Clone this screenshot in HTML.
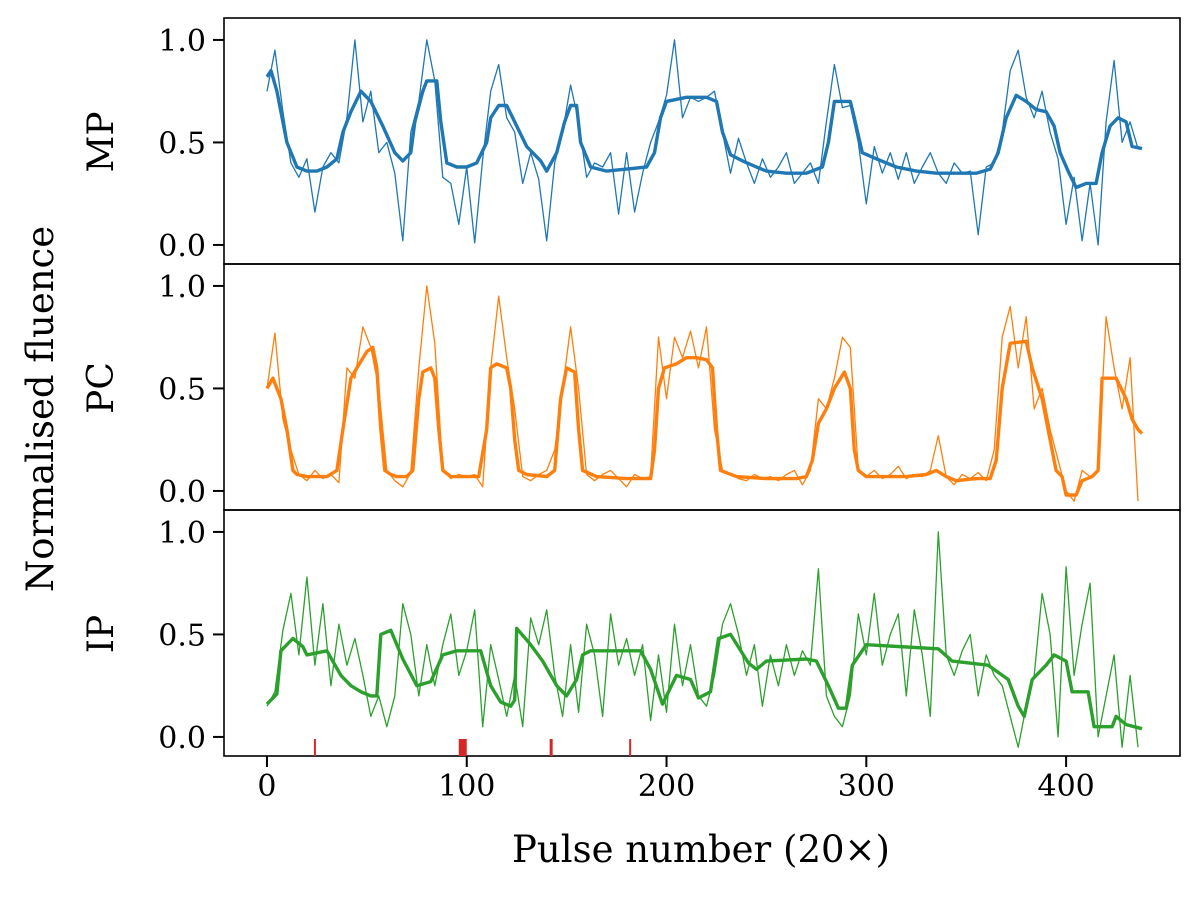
<!DOCTYPE html>
<html><head><meta charset="utf-8">
<style>
html,body{margin:0;padding:0;background:#fff;}
svg text{font-family:"DejaVu Serif","Liberation Serif",serif;fill:#000;}
</style></head>
<body>
<svg id="chart" width="1200" height="893" viewBox="0 0 1200 893" xmlns="http://www.w3.org/2000/svg"></svg>
<script>
// ---- data ----
const rawStep = 4;
const mpRaw = [0.75,0.95,0.65,0.4,0.33,0.42,0.16,0.38,0.45,0.4,0.62,1.0,0.6,0.75,0.45,0.5,0.35,0.02,0.55,0.7,1.0,0.8,0.33,0.3,0.1,0.38,0.01,0.42,0.75,0.88,0.62,0.55,0.3,0.45,0.32,0.02,0.4,0.55,0.78,0.6,0.33,0.4,0.38,0.45,0.15,0.45,0.16,0.35,0.5,0.6,0.73,1.0,0.62,0.72,0.7,0.72,0.75,0.55,0.35,0.52,0.4,0.3,0.42,0.33,0.38,0.45,0.3,0.35,0.4,0.3,0.6,0.88,0.67,0.68,0.5,0.2,0.48,0.35,0.45,0.32,0.45,0.3,0.38,0.45,0.35,0.3,0.4,0.35,0.36,0.05,0.38,0.4,0.55,0.85,0.95,0.72,0.62,0.75,0.55,0.42,0.1,0.33,0.02,0.3,0.0,0.6,0.9,0.5,0.6,0.47];
const pcRaw = [0.5,0.77,0.35,0.2,0.08,0.05,0.1,0.06,0.08,0.04,0.6,0.55,0.8,0.7,0.5,0.1,0.05,0.02,0.09,0.6,1.0,0.72,0.1,0.06,0.08,0.07,0.08,0.02,0.6,0.95,0.65,0.4,0.07,0.05,0.08,0.1,0.2,0.5,0.8,0.5,0.08,0.05,0.08,0.1,0.06,0.02,0.08,0.06,0.07,0.75,0.45,0.75,0.65,0.78,0.6,0.8,0.3,0.1,0.08,0.06,0.05,0.08,0.06,0.07,0.05,0.08,0.1,0.03,0.1,0.45,0.4,0.55,0.75,0.7,0.1,0.07,0.1,0.06,0.08,0.12,0.06,0.08,0.07,0.1,0.27,0.07,0.03,0.08,0.06,0.09,0.05,0.2,0.75,0.9,0.6,0.85,0.4,0.5,0.3,0.15,0.0,-0.05,0.1,0.07,0.1,0.85,0.6,0.4,0.65,-0.05];
const ipRaw = [0.15,0.22,0.52,0.7,0.4,0.78,0.35,0.65,0.25,0.55,0.35,0.48,0.3,0.1,0.2,0.05,0.2,0.65,0.5,0.2,0.45,0.25,0.45,0.6,0.3,0.42,0.62,0.05,0.45,0.28,0.1,0.3,0.05,0.58,0.45,0.62,0.3,0.1,0.45,0.12,0.55,0.4,0.1,0.6,0.35,0.48,0.3,0.45,0.08,0.4,0.12,0.55,0.25,0.45,0.2,0.15,0.3,0.55,0.65,0.5,0.3,0.45,0.15,0.4,0.25,0.45,0.3,0.42,0.35,0.82,0.2,0.1,0.05,0.2,0.6,0.4,0.7,0.35,0.5,0.6,0.2,0.62,0.4,0.1,1.0,0.4,0.3,0.42,0.5,0.2,0.4,0.3,0.25,0.1,-0.05,0.15,0.3,0.7,0.5,0.0,0.83,0.3,0.55,0.75,0.0,0.2,0.4,-0.05,0.3,-0.05];

const mpSmX = [0,2,5,10,15,20,25,30,35,38,42,47,52,58,64,68,72,74,78,80,85,87,90,95,100,105,110,112,116,120,125,130,137,140,145,149,152,155,157,162,170,180,190,194,197,200,210,220,225,228,232,238,245,250,260,270,278,281,284,288,292,294,298,305,315,325,335,345,355,362,366,370,375,380,385,390,394,397,401,405,410,415,418,422,426,430,433,438];
const mpSmY = [0.82,0.85,0.75,0.5,0.38,0.36,0.36,0.38,0.42,0.55,0.65,0.75,0.70,0.58,0.45,0.41,0.45,0.6,0.75,0.80,0.80,0.60,0.40,0.38,0.38,0.40,0.50,0.62,0.68,0.68,0.58,0.48,0.41,0.36,0.45,0.60,0.68,0.68,0.50,0.38,0.36,0.37,0.38,0.45,0.62,0.70,0.72,0.72,0.70,0.55,0.44,0.41,0.38,0.36,0.35,0.35,0.38,0.50,0.70,0.70,0.70,0.62,0.45,0.42,0.38,0.36,0.35,0.35,0.35,0.37,0.45,0.62,0.73,0.70,0.66,0.65,0.58,0.45,0.36,0.28,0.30,0.30,0.45,0.58,0.62,0.60,0.48,0.47];

const pcSmX = [0,3,7,10,13,15,20,25,30,35,38,42,45,50,53,55,57,59,62,65,70,73,76,78,82,84,86,88,92,100,106,110,112,115,120,122,124,126,130,140,144,147,150,154,156,158,165,180,192,194,196,199,205,210,215,220,223,225,227,235,250,265,270,273,276,280,284,289,292,294,296,300,320,330,335,340,345,355,362,365,368,372,380,383,388,392,395,398,400,405,408,413,416,418,425,430,433,436,438];
const pcSmY = [0.5,0.55,0.45,0.3,0.1,0.08,0.07,0.07,0.07,0.1,0.3,0.55,0.6,0.68,0.7,0.6,0.3,0.1,0.08,0.07,0.07,0.1,0.45,0.58,0.6,0.55,0.3,0.1,0.07,0.07,0.07,0.3,0.6,0.62,0.6,0.5,0.25,0.1,0.08,0.07,0.1,0.45,0.6,0.58,0.3,0.1,0.07,0.06,0.06,0.2,0.5,0.6,0.62,0.65,0.65,0.64,0.6,0.3,0.1,0.07,0.06,0.06,0.07,0.15,0.33,0.4,0.5,0.58,0.5,0.2,0.1,0.07,0.07,0.08,0.1,0.07,0.05,0.06,0.06,0.15,0.5,0.72,0.73,0.6,0.45,0.25,0.1,0.07,-0.02,-0.02,0.05,0.07,0.1,0.55,0.55,0.45,0.35,0.3,0.28];

const ipSmX = [0,5,7,13,18,20,30,37,42,47,52,55,57,62,68,75,82,88,95,107,112,117,122,124,125,132,138,145,150,155,158,162,187,192,198,205,212,216,222,226,232,241,245,250,270,275,281,286,290,293,300,336,343,361,371,376,379,383,390,394,400,403,411,414,423,425,430,438];
const ipSmY = [0.16,0.21,0.42,0.48,0.44,0.40,0.42,0.30,0.25,0.22,0.20,0.20,0.50,0.52,0.38,0.25,0.27,0.40,0.42,0.42,0.25,0.17,0.15,0.18,0.53,0.45,0.37,0.25,0.20,0.28,0.40,0.42,0.42,0.33,0.16,0.30,0.28,0.19,0.22,0.48,0.50,0.36,0.33,0.37,0.38,0.37,0.25,0.14,0.14,0.35,0.45,0.43,0.37,0.35,0.28,0.15,0.10,0.28,0.35,0.40,0.37,0.22,0.22,0.05,0.05,0.10,0.06,0.04];

const markStart = [23.5, 96, 141.5, 181.3];
const markEnd   = [24.5, 100, 143, 182];

const xTicks = [0,100,200,300,400];
const yTicks = [0.0,0.5,1.0];
const panelNames = ["MP","PC","IP"];

// ---- layout ----
const svg = document.getElementById('chart');
const NS = 'http://www.w3.org/2000/svg';
const L = 224, R = 1180;
const panelTop = [18, 264, 510];
const panelH = 246;
const xMin = -21.5, xMax = 457;
const yMin = -0.093, yMax = 1.107;
function sx(v){ return L + (v - xMin) / (xMax - xMin) * (R - L); }
function sy(p, v){ return panelTop[p] + panelH - (v - yMin) / (yMax - yMin) * panelH; }
function mk(tag, attrs){ const e = document.createElementNS(NS, tag); for (const k in attrs) e.setAttribute(k, attrs[k]); return e; }

const colors = ['#1f77b4', '#ff7f0e', '#2ca02c'];
const raws = [mpRaw, pcRaw, ipRaw];
const smXs = [mpSmX, pcSmX, ipSmX];
const smYs = [mpSmY, pcSmY, ipSmY];

const defs = mk('defs', {});
svg.appendChild(defs);

for (let p = 0; p < 3; p++){
  const cp = mk('clipPath', {id: 'clip' + p});
  cp.appendChild(mk('rect', {x: L, y: panelTop[p], width: R - L, height: panelH}));
  defs.appendChild(cp);

  const g = mk('g', {'clip-path': 'url(#clip' + p + ')'});
  
  
  svg.appendChild(g);

  let d = '';
  raws[p].forEach((v, i) => { d += (i ? 'L' : 'M') + sx(i * rawStep).toFixed(1) + ',' + sy(p, v).toFixed(1); });
  const raw = mk('path', {d: d, fill: 'none', stroke: colors[p], 'stroke-width': 1.3, 'stroke-linejoin': 'round'});
  
  
  g.appendChild(raw);

  let d2 = '';
  smXs[p].forEach((x, i) => { d2 += (i ? 'L' : 'M') + sx(x).toFixed(1) + ',' + sy(p, smYs[p][i]).toFixed(1); });
  const sm = mk('path', {d: d2, fill: 'none', stroke: colors[p], 'stroke-width': 3.4, 'stroke-linejoin': 'round'});
  
  
  g.appendChild(sm);

  const fr = mk('rect', {x: L, y: panelTop[p], width: R - L, height: panelH, fill: 'none', stroke: '#000', 'stroke-width': 1.6});
  
  
  svg.appendChild(fr);

  yTicks.forEach(t => {
    const y = sy(p, t);
    const tk = mk('line', {x1: L - 11, x2: L, y1: y, y2: y, stroke: '#000', 'stroke-width': 2});
    
    
    svg.appendChild(tk);
    const tx = mk('text', {x: L - 18, y: y + 11, 'text-anchor': 'end', 'font-size': 30});
    
    
    tx.textContent = t.toFixed(1);
    svg.appendChild(tx);
  });

  const pl = mk('text', {x: 0, y: 0, 'text-anchor': 'middle', 'font-size': 36, transform: 'translate(113,' + (panelTop[p] + 124) + ') rotate(-90)'});
  
  
  pl.textContent = panelNames[p];
  svg.appendChild(pl);
}

markStart.forEach((s, i) => {
  const x1 = sx(s), x2 = sx(markEnd[i]);
  const r = mk('rect', {x: x1, y: 739, width: Math.max(2, x2 - x1), height: 17, fill: '#d62728'});
  
  
  svg.appendChild(r);
});

const xb = panelTop[2] + panelH;
xTicks.forEach(t => {
  const x = sx(t);
  const tk = mk('line', {x1: x, x2: x, y1: xb, y2: xb + 11, stroke: '#000', 'stroke-width': 2});
  
  
  svg.appendChild(tk);
  const tx = mk('text', {x: x, y: xb + 40, 'text-anchor': 'middle', 'font-size': 30});
  
  
  tx.textContent = t;
  svg.appendChild(tx);
});

const xl = mk('text', {x: 701, y: 862, 'text-anchor': 'middle', 'font-size': 37});


xl.textContent = 'Pulse number (20×)';
svg.appendChild(xl);

const yl = mk('text', {x: 0, y: 0, 'text-anchor': 'middle', 'font-size': 37, transform: 'translate(53,409) rotate(-90)'});


yl.textContent = 'Normalised fluence';
svg.appendChild(yl);
</script>
</body></html>
